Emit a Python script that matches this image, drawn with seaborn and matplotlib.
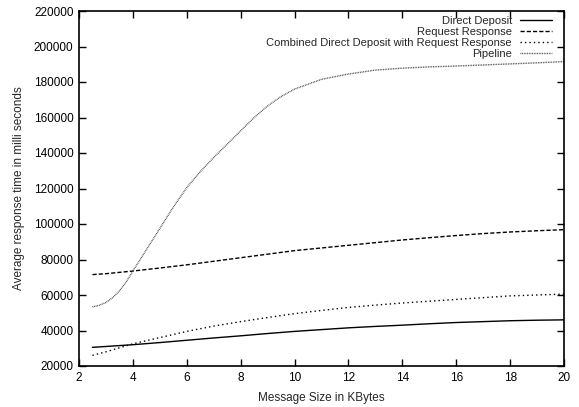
import pandas as pd
import seaborn as sns
import matplotlib.pyplot as plt

sizes = [2.5, 3, 4, 5, 6, 7, 8, 9, 10, 11, 12, 13, 14, 15, 16, 17, 18, 19, 20]
direct_deposit = [30500, 31000, 32000, 33200, 34500, 35800, 37000, 38300, 39500, 40500, 41500,
                  42300, 43000, 43800, 44500, 45000, 45500, 45800, 46000]
request_response = [71500, 72000, 73500, 75200, 77000, 79000, 81000, 83000, 85000, 86500, 88000,
                    89500, 91000, 92300, 93500, 94600, 95500, 96200, 96800]
combined = [26000, 28000, 32500, 36000, 39500, 42500, 45000, 47300, 49500, 51300, 53000,
            54300, 55500, 56500, 57500, 58500, 59500, 60000, 60500]

pipeline_sizes = [2.5, 2.75, 3, 3.25, 3.5, 3.75, 4, 4.5, 5, 5.5, 6, 6.5, 7, 7.5, 8, 8.5, 9,
                  9.5, 10, 11, 12, 13, 14, 15, 16, 17, 18, 19, 20]
pipeline = [53300, 54200, 55800, 58500, 62300, 67300, 73500, 85500, 97500, 109500, 120500,
            129500, 137500, 145000, 152500, 160000, 166500, 171800, 176000, 181500, 184500,
            186700, 187800, 188500, 189000, 189600, 190200, 190800, 191500]

names = ['Direct Deposit', 'Request Response',
         'Combined Direct Deposit with Request Response', 'Pipeline']
series = [(sizes, direct_deposit), (sizes, request_response), (sizes, combined),
          (pipeline_sizes, pipeline)]
styles = {
    'Direct Deposit': dict(color='black', linestyle='-'),
    'Request Response': dict(color='black', linestyle=(0, (3, 1.5))),
    'Combined Direct Deposit with Request Response': dict(color='black', linestyle=(0, (1, 2.2))),
    'Pipeline': dict(color='#444444', linestyle=(0, (0.6, 0.6))),
}

df = pd.concat([pd.DataFrame({'size': xs, 'time': ys, 'series': n})
                for n, (xs, ys) in zip(names, series)], ignore_index=True)

sns.set_style('white')
plt.rcParams['font.family'] = ['Liberation Sans', 'DejaVu Sans']
plt.rcParams['font.size'] = 8.5

fig = plt.figure(figsize=(5.79, 4.07), dpi=100)
ax = fig.add_axes([79 / 579, 41 / 407, 485 / 579, 355 / 407])

for n in names:
    d = df[df['series'] == n]
    sns.lineplot(data=d, x='size', y='time', ax=ax, label=n, linewidth=1, **styles[n])

ax.set_xlim(2, 20)
ax.set_ylim(20000, 220000)
ax.set_xticks(range(2, 21, 2))
ax.set_yticks(range(20000, 220001, 20000))
ax.tick_params(direction='in', length=5, width=1, top=True, right=True,
               bottom=True, left=True, labelsize=8.5, colors='black', pad=4)
for s in ax.spines.values():
    s.set_linewidth(1.2)
    s.set_color('black')
ax.set_xlabel('Message Size in KBytes', fontsize=8.5, labelpad=6)
ax.set_ylabel('Average response time in milli seconds', fontsize=8.5, labelpad=6)

ax.legend(loc='upper right', bbox_to_anchor=(0.98, 0.993), frameon=False,
          markerfirst=False, fontsize=8, handlelength=2.9, handletextpad=0.7,
          labelspacing=0.1, borderaxespad=0, borderpad=0.2)

fig.savefig('out.png', dpi=100)
